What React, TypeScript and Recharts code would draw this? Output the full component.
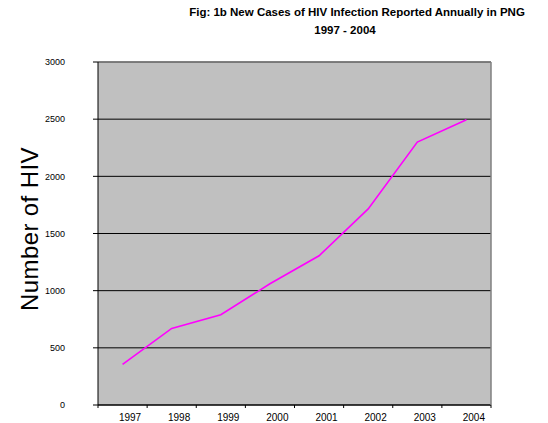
import { LineChart, Line, XAxis, YAxis, CartesianGrid, ReferenceLine } from 'recharts'

const years = ['1997', '1998', '1999', '2000', '2001', '2002', '2003', '2004']
const newCases = [355, 670, 790, 1060, 1305, 1715, 2300, 2495]
const yTicks = [0, 500, 1000, 1500, 2000, 2500, 3000]

// boundaries between year bands, like the Excel axis
const xTicks = years.map((_, i) => i).concat(years.length)

const data = years.map((year, i) => ({ pos: i + 0.5, year, cases: newCases[i] }))

const font = 'Arial, "Liberation Sans", sans-serif'

function YearTick(props: any) {
  const { x, y, payload } = props
  const label = years[payload.value]
  if (!label) return null
  return (
    <text x={x + 32} y={y} dy="0.71em" textAnchor="middle" fontSize={10} fontFamily={font} fill="#000">
      {label}
    </text>
  )
}

export default function App() {
  return (
    <div style={{ position: 'absolute', left: 0, top: 0, width: 548, height: 423, background: '#fff', fontFamily: font }}>
      <div style={{ position: 'absolute', left: 0, width: 714, top: 4, textAlign: 'center', fontSize: 11.5, fontWeight: 700, lineHeight: '17px' }}>
        Fig: 1b New Cases of HIV Infection Reported Annually in PNG
      </div>
      <div style={{ position: 'absolute', left: 0, width: 690, top: 22, textAlign: 'center', fontSize: 11.5, fontWeight: 700, lineHeight: '17px' }}>
        1997 - 2004
      </div>
      <div
        style={{
          position: 'absolute', left: 30, top: 229, transform: 'translate(-50%, -50%) rotate(-90deg)',
          fontSize: 24, whiteSpace: 'nowrap', lineHeight: '24px', letterSpacing: 0.4,
        }}
      >
        Number of HIV
      </div>
      <LineChart width={548} height={423} data={data} margin={{ top: 62, right: 0, bottom: 0, left: 0 }}>
        <CartesianGrid vertical={false} fill="#C0C0C0" stroke="#000" strokeOpacity={1} />
        <ReferenceLine y={3000} stroke="#808080" strokeWidth={1.5} />
        <XAxis
          dataKey="pos"
          type="number"
          domain={[0, years.length]}
          ticks={xTicks}
          interval={0}
          height={18}
          tickSize={3}
          tickMargin={6}
          tick={<YearTick />}
          axisLine={{ stroke: '#000' }}
          tickLine={{ stroke: '#000' }}
        />
        <YAxis
          domain={[0, 3000]}
          ticks={yTicks}
          interval={0}
          width={98}
          tickSize={5}
          tickMargin={28}
          tick={{ fontSize: 9, fill: '#000', fontFamily: font }}
          axisLine={{ stroke: '#000' }}
          tickLine={{ stroke: '#000' }}
        />
        <YAxis yAxisId="right" orientation="right" width={57} tick={false} tickLine={false} axisLine={{ stroke: '#808080', strokeWidth: 1.5 }} />
        <Line dataKey="cases" stroke="#FF00FF" strokeWidth={1.6} dot={false} isAnimationActive={false} />
      </LineChart>
    </div>
  )
}
